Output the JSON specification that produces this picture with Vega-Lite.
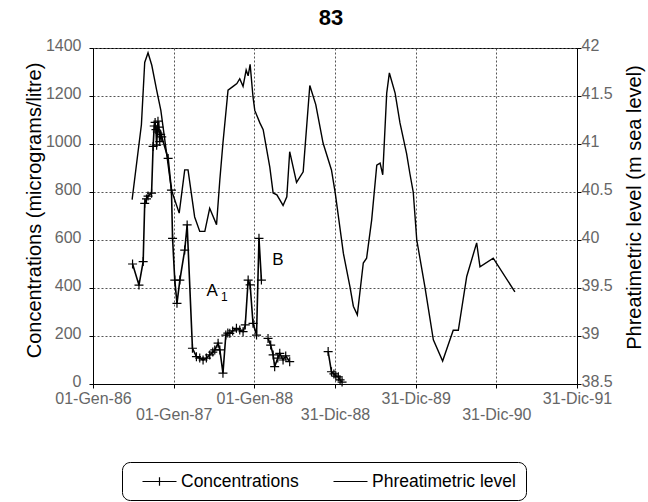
{
  "$schema": "https://vega.github.io/schema/vega-lite/v6.json",
  "width": 484,
  "height": 336,
  "autosize": {"type": "none"},
  "padding": {"left": 93, "top": 48, "right": 71, "bottom": 118},
  "background": "white",
  "config": {
    "view": {"stroke": "black", "strokeWidth": 1},
    "axis": {
      "labelFont": "Liberation Sans Narrow, Arial Narrow, Liberation Sans, sans-serif",
      "labelFontSize": 16,
      "labelColor": "#666",
      "domainColor": "black",
      "tickColor": "black",
      "tickSize": 4,
      "gridColor": "#555",
      "gridDash": [2, 2],
      "titleFont": "Liberation Sans, Arial, sans-serif",
      "titleFontSize": 20,
      "titleFontWeight": "normal",
      "titleColor": "black"
    }
  },
  "title": {
    "text": "83",
    "fontSize": 22,
    "fontWeight": "bold",
    "font": "Liberation Sans, Arial, sans-serif",
    "color": "black",
    "anchor": "middle",
    "offset": 7,
    "dx": -4
  },
  "datasets": {
    "conc": [
      {"date": "1986-06-29", "conc": 500, "seg": 1},
      {"date": "1986-07-28", "conc": 412, "seg": 1},
      {"date": "1986-08-16", "conc": 510, "seg": 1},
      {"date": "1986-08-23", "conc": 753, "seg": 1},
      {"date": "1986-08-31", "conc": 771, "seg": 1},
      {"date": "1986-09-07", "conc": 783, "seg": 1},
      {"date": "1986-09-23", "conc": 795, "seg": 1},
      {"date": "1986-09-30", "conc": 990, "seg": 1},
      {"date": "1986-10-05", "conc": 1075, "seg": 1},
      {"date": "1986-10-09", "conc": 1090, "seg": 1},
      {"date": "1986-10-13", "conc": 1060, "seg": 1},
      {"date": "1986-10-16", "conc": 995, "seg": 1},
      {"date": "1986-10-19", "conc": 1050, "seg": 1},
      {"date": "1986-10-22", "conc": 1095, "seg": 1},
      {"date": "1986-10-26", "conc": 1070, "seg": 1},
      {"date": "1986-10-30", "conc": 1010, "seg": 1},
      {"date": "1986-11-03", "conc": 1040, "seg": 1},
      {"date": "1986-11-08", "conc": 1030, "seg": 1},
      {"date": "1986-12-07", "conc": 940, "seg": 1},
      {"date": "1986-12-22", "conc": 808, "seg": 1},
      {"date": "1986-12-27", "conc": 607, "seg": 1},
      {"date": "1987-01-06", "conc": 433, "seg": 1},
      {"date": "1987-01-16", "conc": 336, "seg": 1},
      {"date": "1987-01-29", "conc": 433, "seg": 1},
      {"date": "1987-02-20", "conc": 558, "seg": 1},
      {"date": "1987-03-03", "conc": 663, "seg": 1},
      {"date": "1987-03-27", "conc": 149, "seg": 1},
      {"date": "1987-04-14", "conc": 114, "seg": 1},
      {"date": "1987-04-29", "conc": 108, "seg": 1},
      {"date": "1987-05-14", "conc": 100, "seg": 1},
      {"date": "1987-05-29", "conc": 108, "seg": 1},
      {"date": "1987-06-13", "conc": 121, "seg": 1},
      {"date": "1987-06-27", "conc": 133, "seg": 1},
      {"date": "1987-07-06", "conc": 142, "seg": 1},
      {"date": "1987-07-21", "conc": 170, "seg": 1},
      {"date": "1987-07-29", "conc": 142, "seg": 1},
      {"date": "1987-08-12", "conc": 45, "seg": 1},
      {"date": "1987-08-25", "conc": 204, "seg": 1},
      {"date": "1987-09-03", "conc": 212, "seg": 1},
      {"date": "1987-09-12", "conc": 211, "seg": 1},
      {"date": "1987-09-25", "conc": 221, "seg": 1},
      {"date": "1987-10-12", "conc": 232, "seg": 1},
      {"date": "1987-10-27", "conc": 225, "seg": 1},
      {"date": "1987-11-11", "conc": 218, "seg": 1},
      {"date": "1987-11-21", "conc": 246, "seg": 1},
      {"date": "1987-12-04", "conc": 433, "seg": 1},
      {"date": "1987-12-13", "conc": 413, "seg": 1},
      {"date": "1987-12-26", "conc": 253, "seg": 1},
      {"date": "1988-01-11", "conc": 204, "seg": 1},
      {"date": "1988-01-22", "conc": 607, "seg": 1},
      {"date": "1988-02-02", "conc": 433, "seg": 1},
      {"date": "1988-03-03", "conc": 190, "seg": 2},
      {"date": "1988-03-15", "conc": 162, "seg": 2},
      {"date": "1988-03-26", "conc": 121, "seg": 2},
      {"date": "1988-04-02", "conc": 72, "seg": 2},
      {"date": "1988-04-16", "conc": 108, "seg": 2},
      {"date": "1988-04-25", "conc": 128, "seg": 2},
      {"date": "1988-05-10", "conc": 100, "seg": 2},
      {"date": "1988-05-22", "conc": 117, "seg": 2},
      {"date": "1988-06-09", "conc": 93, "seg": 2},
      {"date": "1988-11-30", "conc": 135, "seg": 3},
      {"date": "1988-12-15", "conc": 51, "seg": 3},
      {"date": "1988-12-26", "conc": 42, "seg": 3},
      {"date": "1989-01-04", "conc": 33, "seg": 3},
      {"date": "1989-01-15", "conc": 30, "seg": 3},
      {"date": "1989-01-23", "conc": 17, "seg": 3},
      {"date": "1989-02-01", "conc": 8, "seg": 3}
    ],
    "level": [
      {"date": "1986-06-27", "level": 40.42},
      {"date": "1986-08-08", "level": 41.20},
      {"date": "1986-08-23", "level": 41.85},
      {"date": "1986-09-07", "level": 41.95},
      {"date": "1986-09-24", "level": 41.82},
      {"date": "1986-10-16", "level": 41.56},
      {"date": "1986-11-04", "level": 41.35},
      {"date": "1986-11-22", "level": 41.04},
      {"date": "1986-12-22", "level": 40.52},
      {"date": "1987-01-26", "level": 40.28},
      {"date": "1987-02-20", "level": 40.73},
      {"date": "1987-03-07", "level": 40.73},
      {"date": "1987-04-06", "level": 40.24},
      {"date": "1987-04-29", "level": 40.09},
      {"date": "1987-05-22", "level": 40.09},
      {"date": "1987-06-13", "level": 40.33},
      {"date": "1987-07-14", "level": 40.16},
      {"date": "1987-07-29", "level": 40.63},
      {"date": "1987-08-12", "level": 41.01},
      {"date": "1987-09-04", "level": 41.56},
      {"date": "1987-09-27", "level": 41.60},
      {"date": "1987-10-14", "level": 41.63},
      {"date": "1987-10-27", "level": 41.68},
      {"date": "1987-11-11", "level": 41.60},
      {"date": "1987-11-25", "level": 41.77},
      {"date": "1987-12-04", "level": 41.71},
      {"date": "1987-12-13", "level": 41.83},
      {"date": "1987-12-26", "level": 41.49},
      {"date": "1988-01-03", "level": 41.35},
      {"date": "1988-01-26", "level": 41.22},
      {"date": "1988-02-10", "level": 41.15},
      {"date": "1988-03-11", "level": 40.76},
      {"date": "1988-03-26", "level": 40.49},
      {"date": "1988-04-12", "level": 40.47},
      {"date": "1988-05-10", "level": 40.36},
      {"date": "1988-05-27", "level": 40.45},
      {"date": "1988-06-09", "level": 40.92},
      {"date": "1988-07-10", "level": 40.60},
      {"date": "1988-08-09", "level": 40.71},
      {"date": "1988-09-08", "level": 41.61},
      {"date": "1988-10-05", "level": 41.41},
      {"date": "1988-11-07", "level": 41.01},
      {"date": "1988-12-15", "level": 40.73},
      {"date": "1989-01-01", "level": 40.49},
      {"date": "1989-02-07", "level": 39.86},
      {"date": "1989-03-09", "level": 39.51},
      {"date": "1989-03-24", "level": 39.31},
      {"date": "1989-04-11", "level": 39.22},
      {"date": "1989-05-08", "level": 39.76},
      {"date": "1989-05-23", "level": 39.81},
      {"date": "1989-06-15", "level": 40.21},
      {"date": "1989-07-08", "level": 40.78},
      {"date": "1989-07-23", "level": 40.80},
      {"date": "1989-08-04", "level": 40.68},
      {"date": "1989-08-22", "level": 41.53},
      {"date": "1989-09-03", "level": 41.74},
      {"date": "1989-09-29", "level": 41.53},
      {"date": "1989-10-21", "level": 41.22},
      {"date": "1989-11-20", "level": 40.90},
      {"date": "1989-12-05", "level": 40.69},
      {"date": "1989-12-20", "level": 40.50},
      {"date": "1990-01-05", "level": 40.00},
      {"date": "1990-02-11", "level": 39.51},
      {"date": "1990-03-21", "level": 38.96},
      {"date": "1990-05-02", "level": 38.74},
      {"date": "1990-06-19", "level": 39.06},
      {"date": "1990-07-12", "level": 39.06},
      {"date": "1990-08-19", "level": 39.62},
      {"date": "1990-10-03", "level": 39.97},
      {"date": "1990-10-18", "level": 39.72},
      {"date": "1990-12-17", "level": 39.81},
      {"date": "1991-03-25", "level": 39.46}
    ],
    "notes": [
      {"date": "1987-06-24", "conc": 387, "label": "A"},
      {"date": "1988-04-17", "conc": 515, "label": "B"}
    ],
    "subnotes": [
      {"date": "1987-08-18", "conc": 362, "label": "1"}
    ]
  },
  "encoding": {
    "x": {
      "field": "date",
      "type": "temporal",
      "scale": {"domain": [{"year": 1986, "month": 1, "date": 1}, {"year": 1991, "month": 12, "date": 31}]},
      "axis": {
        "title": null,
        "grid": true,
        "values": [
          {"year": 1986, "month": 1, "date": 1},
          {"year": 1987, "month": 1, "date": 1},
          {"year": 1988, "month": 1, "date": 1},
          {"year": 1988, "month": 12, "date": 31},
          {"year": 1989, "month": 12, "date": 31},
          {"year": 1990, "month": 12, "date": 31},
          {"year": 1991, "month": 12, "date": 31}
        ],
        "labelExpr": "month(datum.value) == 0 ? '01-Gen-' + timeFormat(datum.value, '%y') : '31-Dic-' + timeFormat(datum.value, '%y')",
        "labelOverlap": false,
        "labelFlush": false,
        "labelBaseline": "top",
        "labelPadding": {"condition": {"test": "(month(datum.value) == 0 ? year(datum.value) : year(datum.value) + 1) % 2 == 1", "value": 18}, "value": 2}
      }
    }
  },
  "layer": [
    {
      "encoding": {
        "y": {
          "field": "conc",
          "type": "quantitative",
          "scale": {"domain": [0, 1400], "nice": false},
          "axis": {
            "title": "Concentrations (micrograms/litre)",
            "values": [0, 200, 400, 600, 800, 1000, 1200, 1400],
            "format": "d",
            "grid": true,
            "labelPadding": 8,
            "labelOffset": -3,
            "titleAngle": 270,
            "titleX": -59,
            "titleY": 162,
            "titleAlign": "center",
            "titleBaseline": "middle"
          }
        }
      },
      "layer": [
        {
          "data": {"name": "conc"},
          "mark": {"type": "line", "strokeWidth": 1.6},
          "encoding": {
            "detail": {"field": "seg"},
            "color": {
              "datum": "Concentrations",
              "scale": {"domain": ["Concentrations", "Phreatimetric level"], "range": ["black", "black"]},
              "legend": {
                "title": null,
                "orient": "none",
                "legendX": 29,
                "legendY": 414,
                "direction": "horizontal",
                "strokeColor": "black",
                "cornerRadius": 8,
                "padding": 10,
                "symbolOffset": 18,
                "labelFont": "Liberation Sans, Arial, sans-serif",
                "labelFontSize": 17.5,
                "labelColor": "black",
                "labelOffset": 12,
                "columnPadding": 24,
                "symbolSize": 289,
                "symbolStrokeWidth": 1.2,
                "symbolStrokeColor": "black",
                "symbolFillColor": "transparent",
                "encode": {
                  "symbols": {
                    "update": {
                      "shape": {"signal": "datum.value === 'Concentrations' ? 'M-2,0H2M0,-0.5V0.5' : 'M-2,0H2'"},
                      "fill": {"value": "transparent"},
                      "stroke": {"value": "black"},
                      "strokeWidth": {"value": 1.2}
                    }
                  }
                }
              }
            }
          }
        },
        {
          "data": {"name": "conc"},
          "mark": {"type": "point", "shape": "M-1,0H1M0,-1V1", "size": 81, "filled": false, "strokeWidth": 1.2, "opacity": 1},
          "encoding": {
            "color": {
              "datum": "Concentrations",
              "scale": {"domain": ["Concentrations", "Phreatimetric level"], "range": ["black", "black"]}
            }
          }
        },
        {
          "data": {"name": "notes"},
          "mark": {"type": "text", "fontSize": 17, "font": "Liberation Sans, Arial, sans-serif", "color": "black"},
          "encoding": {"text": {"field": "label"}}
        },
        {
          "data": {"name": "subnotes"},
          "mark": {"type": "text", "fontSize": 12, "font": "Liberation Sans, Arial, sans-serif", "color": "black"},
          "encoding": {"text": {"field": "label"}}
        }
      ]
    },
    {
      "data": {"name": "level"},
      "mark": {"type": "line", "strokeWidth": 1.4},
      "encoding": {
        "y": {
          "field": "level",
          "type": "quantitative",
          "scale": {"domain": [38.5, 42], "nice": false, "zero": false},
          "axis": {
            "orient": "right",
            "title": "Phreatimetric level (m sea level)",
            "values": [38.5, 39, 39.5, 40, 40.5, 41, 41.5, 42],
            "format": "~g",
            "grid": false,
            "labelPadding": 0,
            "labelOffset": -3,
            "titleAngle": 270,
            "titleX": 57,
            "titleY": 159,
            "titleAlign": "center",
            "titleBaseline": "middle"
          }
        },
        "color": {
          "datum": "Phreatimetric level",
          "scale": {"domain": ["Concentrations", "Phreatimetric level"], "range": ["black", "black"]}
        }
      }
    }
  ],
  "resolve": {"scale": {"y": "independent"}, "axis": {"y": "independent"}}
}
